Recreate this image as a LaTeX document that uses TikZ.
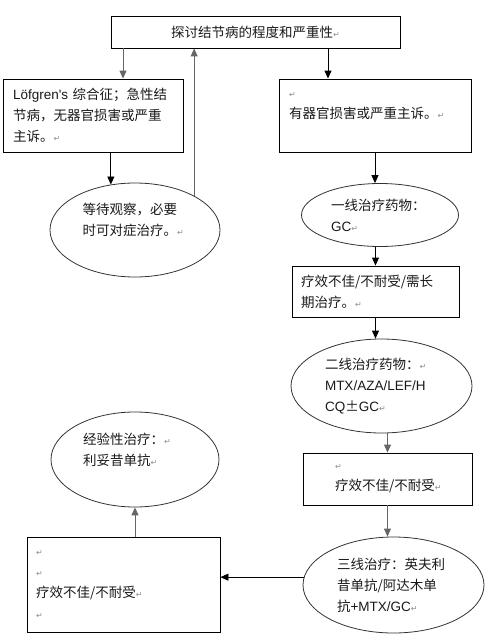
\documentclass[tikz,border=0pt]{standalone}
\usepackage{fontspec}
\setmainfont{Noto Sans CJK SC}
\newfontfamily\dejavu{DejaVu Sans}
\newfontfamily\lat{Liberation Sans}
\usetikzlibrary{arrows.meta,shapes.geometric}
\newcommand\ret{{\dejavu\fontsize{8}{8}\selectfont\textcolor{black!45}{↵}}}
\begin{document}
\begin{tikzpicture}[x=1pt,y=-1pt,
  every node/.style={font=\fontsize{13.5}{21}\selectfont, text=black!90},
  box/.style={draw=black, line width=0.9pt, rectangle, align=left, inner ysep=0pt},
  oval/.style={draw=black!80, line width=0.8pt, ellipse, inner sep=0pt, align=left},
  conn/.style={line width=0.9pt, -{Triangle[length=8pt,width=7pt]}},
  gconn/.style={conn, draw=black!60}]
\useasboundingbox (0,0) rectangle (497,642);

\node[box, minimum width=289pt, minimum height=32pt, align=center] (top) at (255.5,32) {探讨结节病的程度和严重性\ret};

\node[box, minimum height=73pt, text width=160pt, inner xsep=10pt] (lof) at (93,115.5) {{\lat Löfgren\textquotesingle s}~综合征；急性结\\节病，无器官损害或严重\\主诉。\ret};

\node[box, minimum height=73pt, text width=172pt, inner xsep=10pt] (org) at (375,115.5) {\ret\\有器官损害或严重主诉。\ret\\\mbox{}};

\node[oval, minimum width=170pt, minimum height=94pt, text width=105pt] (e1) at (135,230) {等待观察，必要\\时可对症治疗。\ret\\\mbox{}};

\node[oval, minimum width=157pt, minimum height=63pt, text width=98pt] (e2) at (380,215) {一线治疗药物：\\{\lat GC}\ret};

\node[box, minimum height=51pt, text width=149pt, inner xsep=9pt] (bad1) at (375.5,291.5) {疗效不佳/不耐受/需长\\期治疗。\ret};

\node[oval, minimum width=181pt, minimum height=94pt, text width=113pt] (e3) at (381.5,386) {二线治疗药物：\ret\\{\lat MTX/AZA/LEF/H}\\{\lat CQ}±{\lat GC}\ret};

\node[box, minimum height=52pt, text width=105pt, inner xsep=32pt] (bad2) at (387.5,479) {\ret\\疗效不佳/不耐受\ret};

\node[oval, minimum width=181pt, minimum height=96pt, text width=113pt] (e4) at (393.5,585) {三线治疗：英夫利\\昔单抗/阿达木单\\抗{\lat +MTX/GC}\ret};

\node[box, minimum height=95pt, text width=175pt, inner xsep=9pt] (bad3) at (123.5,584.5) {\ret\\\ret\\疗效不佳/不耐受\ret\\\ret};

\node[oval, minimum width=168pt, minimum height=95pt, text width=104pt] (e5) at (135,459.5) {经验性治疗：\ret\\利妥昔单抗\ret\\\mbox{}};

\draw[gconn] ([xshift=30pt]lof.north |- top.south) -- ([xshift=30pt]lof.north);
\draw[conn] ([xshift=-47pt]org.north |- top.south) -- ([xshift=-47pt]org.north);
\draw[conn] (lof.south -| e1.118) -- (e1.118);
\draw[gconn] (e1.30) -- (e1.30 |- top.south);
\draw[conn] (org.south) -- (org.south |- e2.north);
\draw[conn] (bad1.north |- e2.south) -- (bad1.north);
\draw[conn] (bad1.south) -- (bad1.south |- e3.north);
\draw[gconn] (bad2.north |- e3.south) -- (bad2.north);
\draw[gconn] (bad2.south) -- (bad2.south |- e4.north);
\draw[conn] (e4.175) -- (e4.175 -| bad3.east);
\draw[gconn] (e5.south |- bad3.north) -- (e5.south);
\end{tikzpicture}
\end{document}
